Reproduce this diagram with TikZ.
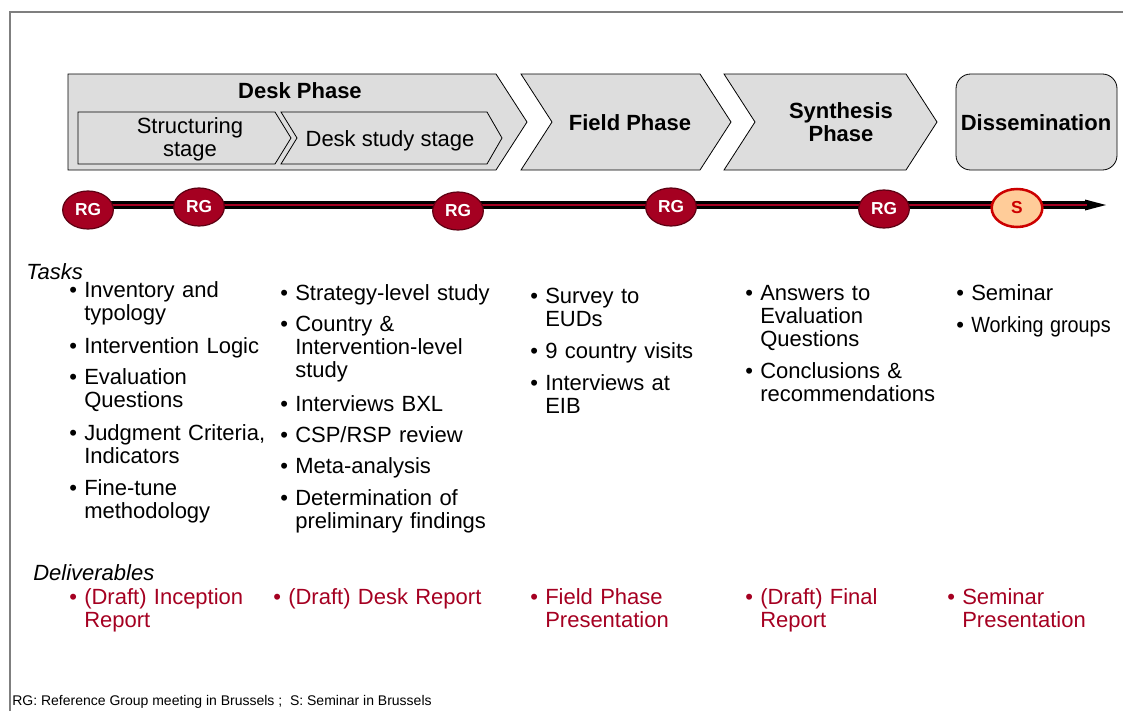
\documentclass[tikz,border=0pt]{standalone}
\usepackage{fontspec}
\setmainfont{Liberation Sans}
\usetikzlibrary{shapes.geometric}

\definecolor{brandred}{HTML}{A50021}
\definecolor{rgedge}{HTML}{5C0012}
\definecolor{phasegray}{HTML}{DDDDDD}
\definecolor{framegray}{HTML}{7F7F7F}
\definecolor{semedge}{HTML}{CC0000}
\definecolor{semfill}{HTML}{FFCC99}

\newcommand\tkbody{\fontsize{16.5}{17.4}\selectfont}
\newcommand\tklegend{\fontsize{10.5}{12}\selectfont}
\newcommand\tkrg{\fontsize{13}{14}\selectfont\bfseries}
\newcommand\tkbul{\leavevmode\llap{\textbullet\hspace{5.4pt}}}

\tikzset{
  phase/.style={draw=black, fill=phasegray, line width=0.6pt},
  ptext/.style={font=\tkbody\bfseries, inner sep=0, anchor=base, align=center},
  stext/.style={font=\tkbody, inner sep=0, anchor=base, align=center},
  item/.style={font=\tkbody, inner sep=0, anchor=base west, text width=190pt, align=left},
  deliv/.style={item, text=brandred},
  rgmark/.style={ellipse, fill=brandred, draw=rgedge, line width=0.9pt,
    minimum width=38pt, minimum height=28.5pt, inner sep=0, text=white, font=\tkrg},
  semmark/.style={rgmark, fill=semfill, draw=semedge, line width=1.9pt, text=semedge},
  heading/.style={font=\tkbody\itshape, inner sep=0, anchor=base west},
}

\begin{document}
\begin{tikzpicture}[x=0.75pt, y=-0.75pt]
\useasboundingbox (0,0) rectangle (1123,711);

% page frame (left and top edges)
\draw[framegray, line width=1.2pt] (10,711) -- (10,12) -- (1123,12);

% phase chevrons
\draw[phase] (68,74) -- (496,74) -- (527,122) -- (496,170) -- (68,170) -- cycle;
\draw[phase] (521,74) -- (700,74) -- (731,122) -- (700,170) -- (521,170) -- (552,122) -- cycle;
\draw[phase] (724,74) -- (906,74) -- (937,122) -- (906,170) -- (724,170) -- (755,122) -- cycle;
\draw[phase, rounded corners=11pt] (956,74) rectangle (1117,170);

% stages inside the desk phase
\draw[phase] (78,112) -- (275,112) -- (291,138) -- (275,164) -- (78,164) -- cycle;
\draw[phase] (281,112) -- (487,112) -- (502,138) -- (487,164) -- (281,164) -- (297,138) -- cycle;

\node[ptext] (deskph) at (300,98) {Desk Phase};
\node[stext, text width=150pt] (structst) at (190,133) {Structuring\\stage};
\node[stext] (deskst) at (390,146) {Desk study stage};
\node[ptext] (fieldph) at (630,130) {Field Phase};
\node[ptext, text width=150pt] (synthph) at (841,118) {Synthesis\\Phase};
\node[ptext] (dissem) at (1036,130) {Dissemination};

% timeline
\coordinate (tlStart) at (88,205);
\coordinate (tlEnd) at (1087,205);
\coordinate (tlTip) at (1106,205);
\draw[black, line width=6pt] (tlStart) -- (tlEnd);
\fill[black] (1085,199.5) -- (tlTip) -- (1085,210.5) -- cycle;
\draw[brandred, line width=2.2pt] (tlStart) -- (tlEnd);

% meetings on the timeline
\node[rgmark] (rg1) at (88,210) {RG};
\node[rgmark] (rg2) at (199,207) {RG};
\node[rgmark] (rg3) at (458,211) {RG};
\node[rgmark] (rg4) at (671,207) {RG};
\node[rgmark] (rg5) at (884,209) {RG};
\node[semmark] (sem) at (1017,208) {S};

% tasks
\node[heading] (tasks) at (26,279) {Tasks};

\node[item] (t11) at (84,297) {\tkbul Inventory and\\typology};
\node[item] (t12) at (84,353) {\tkbul Intervention Logic};
\node[item] (t13) at (84,384) {\tkbul Evaluation\\Questions};
\node[item] (t14) at (84,440) {\tkbul Judgment Criteria,\\Indicators};
\node[item] (t15) at (84,495) {\tkbul Fine-tune\\methodology};

\node[item] (t21) at (295,300) {\tkbul Strategy-level study};
\node[item] (t22) at (295,331) {\tkbul Country \&\\Intervention-level\\study};
\node[item] (t23) at (295,411) {\tkbul Interviews BXL};
\node[item] (t24) at (295,442) {\tkbul CSP/RSP review};
\node[item] (t25) at (295,473) {\tkbul Meta-analysis};
\node[item] (t26) at (295,505) {\tkbul Determination of\\preliminary findings};

\node[item] (t31) at (545,303) {\tkbul Survey to\\EUDs};
\node[item] (t32) at (545,358) {\tkbul 9 country visits};
\node[item] (t33) at (545,390) {\tkbul Interviews at\\EIB};

\node[item] (t41) at (760,300) {\tkbul Answers to\\Evaluation\\Questions};
\node[item] (t42) at (760,378) {\tkbul Conclusions \&\\recommendations};

\node[item] (t51) at (971,300) {\tkbul Seminar};
\node[item] (t52) at (971,332) {\tkbul \scalebox{0.9}[1]{Working groups}};

% deliverables
\node[heading] (delivs) at (33,580) {Deliverables};
\node[deliv] (d1) at (84,604) {\tkbul (Draft) Inception\\Report};
\node[deliv] (d2) at (288,604) {\tkbul (Draft) Desk Report};
\node[deliv] (d3) at (545,604) {\tkbul Field Phase\\Presentation};
\node[deliv] (d4) at (760,604) {\tkbul (Draft) Final\\Report};
\node[deliv] (d5) at (962,604) {\tkbul Seminar\\Presentation};

% legend
\node[font=\tklegend, inner sep=0, anchor=base west] (legend) at (12,705)
  {RG: Reference Group meeting in Brussels ;\ \ S: Seminar in Brussels};
\end{tikzpicture}
\end{document}
